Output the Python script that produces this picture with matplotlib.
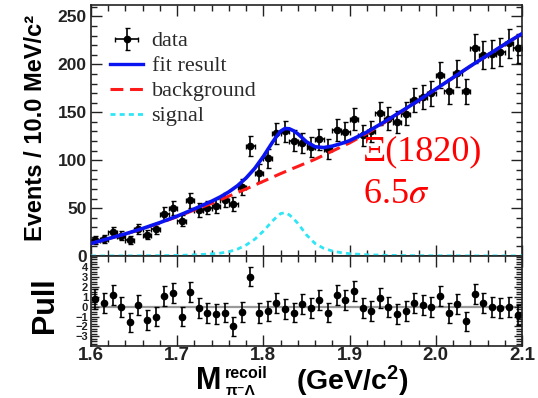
import numpy as np
import matplotlib
matplotlib.use('Agg')
import matplotlib.pyplot as plt
from matplotlib.ticker import MultipleLocator, FixedLocator
from matplotlib.lines import Line2D

# ---------------- data ----------------
bin_edges = np.linspace(1.6, 2.1, 51)
bin_centers = 0.5 * (bin_edges[:-1] + bin_edges[1:])

counts = [17, 18, 25.5, 21, 16.5, 28.5, 22, 28, 44, 50,
          37, 58, 48, 50.5, 52.5, 58.5, 54, 72, 115, 87,
          102, 128, 130, 120.5, 118, 114, 122, 111.5, 131.5, 129,
          143, 126, 130, 149, 143.5, 139.7, 148.5, 163, 166, 170,
          189, 172, 190.5, 172, 216.7, 210, 211, 213, 222, 216.7]

pulls = [0.75, 0.34, 1.18, -0.06, -1.6, 0.17, -1.34, -1.0, 1.08, 1.41,
         -1.0, 1.5, -0.17, -0.67, -0.77, -0.6, -2.0, -0.57, 3.03, -0.67,
         -0.43, 0.4, -0.27, -0.6, 0.24, -0.17, 0.68, -0.6, 1.18, 0.68,
         1.59, -0.17, -0.43, 0.85, 0.0, -0.74, -0.43, 0.4, 0.17, 0.0,
         1.08, -0.67, 0.27, -1.5, 1.28, 0.34, 0.0, -0.17, 0.0, -0.84]

m_curve = [1.60, 1.62, 1.64, 1.66, 1.68, 1.70, 1.72, 1.74, 1.75, 1.76,
           1.77, 1.78, 1.79, 1.80, 1.805, 1.81, 1.815, 1.82, 1.825, 1.83,
           1.835, 1.84, 1.845, 1.85, 1.86, 1.87, 1.88, 1.89, 1.90, 1.92,
           1.94, 1.96, 1.98, 2.00, 2.02, 2.04, 2.06, 2.08, 2.10]

background = [13, 18, 23, 28.5, 34.5, 41, 48, 55, 58.7, 62.5,
              66.2, 70, 74, 78, 80, 82, 84, 86, 87.9, 89.8,
              91.7, 93.5, 95.4, 97.2, 101, 105.2, 109.5, 113.8, 118, 128,
              139, 150.5, 162, 174, 186, 198, 209.5, 221, 232]

signal = [0.05, 0.1, 0.15, 0.25, 0.4, 0.6, 1.2, 2.2, 3.0, 4.5,
          7.2, 11.5, 17.5, 26, 31, 36, 40.5, 44.3, 45.2, 43,
          39, 34, 28, 22, 13, 8, 5.2, 3.5, 2.4, 1.3,
          0.8, 0.5, 0.35, 0.25, 0.2, 0.15, 0.12, 0.1, 0.08]

fit_total = np.array(background) + np.array(signal)
count_err = np.sqrt(np.array(counts))
pull_err = np.ones(len(pulls))

legend_labels = ['data', 'fit result', 'background', 'signal']

# ---------------- figure ----------------
W, H = 538, 398
fig = plt.figure(figsize=(W / 100, H / 100), dpi=100)

sans = 'Liberation Sans'
serif = 'Liberation Serif'
plt.rcParams['mathtext.fontset'] = 'custom'
plt.rcParams['mathtext.rm'] = 'Liberation Sans:bold'
plt.rcParams['mathtext.bf'] = 'Liberation Sans:bold'
plt.rcParams['mathtext.it'] = 'Liberation Sans:bold:italic'

L, R = 91, 522
T1, B1 = 5, 256
B2 = 346
ax1 = fig.add_axes([L / W, 1 - B1 / H, (R - L) / W, (B1 - T1) / H])
ax2 = fig.add_axes([L / W, 1 - B2 / H, (R - L) / W, (B2 - B1) / H])

blue = '#0a14f0'
red = '#ff1a1a'
cyan = '#2ee6f5'

# top panel
eb = ax1.errorbar(bin_centers, counts, yerr=count_err, xerr=0.005, fmt='o',
                  color='black', ms=4.5, elinewidth=1.2, capsize=1.8,
                  capthick=1.0, zorder=2)
ax1.plot(m_curve, signal, color=cyan, lw=2.0, ls=(0, (1.8, 1.5)), zorder=3)
ax1.plot(m_curve, background, color=red, lw=2.2, ls=(0, (4.2, 2.2)), zorder=3)
ax1.plot(m_curve, fit_total, color=blue, lw=2.6, zorder=4)

ax1.set_xlim(1.6, 2.1)
ax1.set_ylim(0, 262)
ax1.xaxis.set_major_locator(MultipleLocator(0.1))
ax1.xaxis.set_minor_locator(MultipleLocator(0.02))
ax1.yaxis.set_major_locator(MultipleLocator(50))
ax1.yaxis.set_minor_locator(MultipleLocator(10))
ax1.tick_params(which='both', direction='in', top=True, right=True,
                labelbottom=False, width=1.0, colors='#222222')
ax1.tick_params(which='major', length=8, pad=3)
ax1.tick_params(which='minor', length=4)
for lab in ax1.get_yticklabels():
    lab.set_fontfamily(sans)
    lab.set_fontweight('bold')
    lab.set_fontsize(12.5)

handles = [eb,
           Line2D([], [], color=blue, lw=2.4),
           Line2D([], [], color=red, lw=2.2, ls=(0, (4.2, 2.2))),
           Line2D([], [], color=cyan, lw=2.0, ls=(0, (1.8, 1.5)))]
leg = ax1.legend(handles, legend_labels, loc='upper left',
                 bbox_to_anchor=(0.045, 0.897), frameon=False,
                 prop={'family': serif, 'size': 16}, handlelength=1.45,
                 handletextpad=0.4, labelspacing=0.2, borderpad=0,
                 borderaxespad=0)
for t in leg.get_texts():
    t.set_color('#2a2a2a')

ax1.text(0.63, 0.415, 'Ξ(1820)', transform=ax1.transAxes, color='red',
         fontfamily=serif, fontsize=26, ha='left', va='center')
ax1.text(0.63, 0.245, r'6.5$\sigma$', transform=ax1.transAxes, color='red',
         fontfamily=serif, fontsize=26, ha='left', va='center',
         math_fontfamily='stix')

# pull panel
ax2.axhline(0, color='#999999', lw=1.6, zorder=1)
ax2.errorbar(bin_centers, pulls, yerr=pull_err, fmt='o', color='black',
             ms=4.5, elinewidth=1.2, capsize=1.8, capthick=1.0, zorder=2)
ax2.set_xlim(1.6, 2.1)
ax2.set_ylim(-3.97, 5.1)
ax2.xaxis.set_major_locator(MultipleLocator(0.1))
ax2.xaxis.set_minor_locator(MultipleLocator(0.02))
ax2.yaxis.set_major_locator(FixedLocator([-3, -2, -1, 0, 1, 2, 3, 4]))
ax2.yaxis.set_minor_locator(MultipleLocator(0.25))
ax2.tick_params(which='both', direction='in', top=True, right=True,
                width=1.0, colors='#222222')
ax2.tick_params(axis='x', which='major', length=8, pad=0.5)
ax2.tick_params(axis='x', which='minor', length=4)
ax2.tick_params(axis='y', which='major', length=6, pad=2)
ax2.tick_params(axis='y', which='minor', length=4)
for lab in ax2.get_xticklabels():
    lab.set_fontfamily(sans)
    lab.set_fontweight('bold')
    lab.set_fontsize(13.5)
for lab in ax2.get_yticklabels():
    lab.set_fontfamily(sans)
    lab.set_fontweight('bold')
    lab.set_fontsize(8)

for ax in (ax1, ax2):
    for s in ax.spines.values():
        s.set_linewidth(1.2)
        s.set_color('#222222')

# axis titles
fig.text(36 / W, 1 - 128 / H, 'Events / 10.0 MeV/c²', rotation=90,
         ha='center', va='center', fontfamily=sans, fontweight='bold',
         fontsize=17)
fig.text(45 / W, 1 - 305 / H, 'Pull', rotation=90, ha='center',
         va='center', fontfamily=sans, fontweight='bold', fontsize=22)

# x-axis title assembled from pieces: M, superscript, subscript, unit
fig.text(196 / W, 1 - 389 / H, 'M', ha='left', va='baseline',
         fontfamily=sans, fontweight='bold', fontsize=22)
fig.text(225 / W, 1 - 378 / H, 'recoil', ha='left', va='baseline',
         fontfamily=sans, fontweight='bold', fontsize=11.5)
fig.text(226 / W, 1 - 395 / H, 'π⁻Λ', ha='left', va='baseline',
         family=['Liberation Sans', 'DejaVu Sans'], fontweight='bold',
         fontsize=11)
fig.text(296 / W, 1 - 390 / H, r'(GeV/c$^{2}$)', ha='left', va='baseline',
         fontfamily=sans, fontweight='bold', fontsize=20.5)

fig.savefig('out.png', dpi=100)
